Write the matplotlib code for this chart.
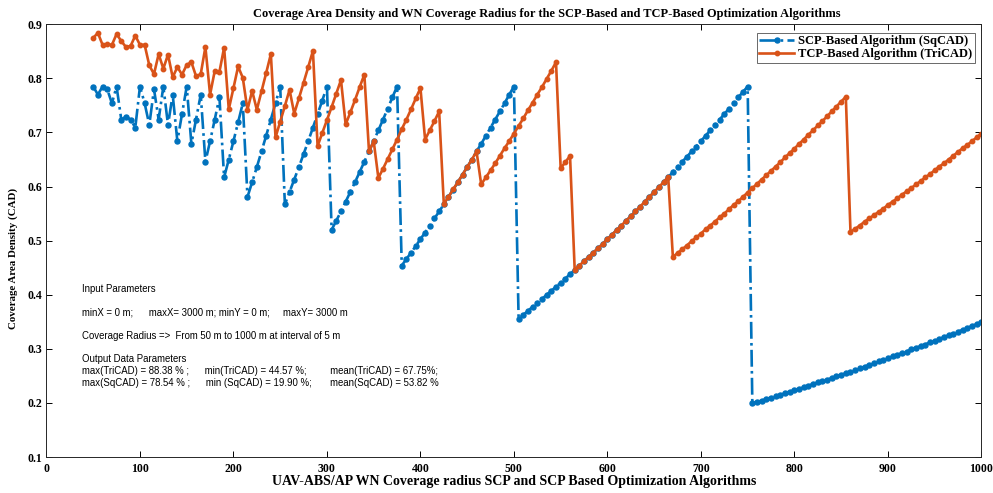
import numpy as np
import matplotlib
matplotlib.use('Agg')
import matplotlib.pyplot as plt

# coverage radius axis (50 m .. 1000 m, step 5 m)
radius = np.arange(50, 1005, 5)

# SCP-based coverage area density (SqCAD)
sqcad = [0.785, 0.770, 0.785, 0.780, 0.754, 0.785, 0.724, 0.729, 0.724, 0.709, 0.785,
         0.754, 0.714, 0.780, 0.724, 0.785, 0.714, 0.770, 0.684, 0.734, 0.785,
         0.679, 0.724, 0.770, 0.646, 0.684, 0.724, 0.765, 0.617, 0.650, 0.684,
         0.719, 0.754, 0.581, 0.608, 0.636, 0.665, 0.694, 0.724, 0.754, 0.785,
         0.567, 0.590, 0.613, 0.636, 0.660, 0.684, 0.709, 0.734, 0.759, 0.785,
         0.520, 0.537, 0.554, 0.572, 0.590, 0.608, 0.627, 0.646, 0.665, 0.684,
         0.704, 0.724, 0.744, 0.765, 0.785, 0.454, 0.466, 0.478, 0.490, 0.503,
         0.515, 0.528, 0.541, 0.554, 0.567, 0.581, 0.594, 0.608, 0.622, 0.636,
         0.650, 0.665, 0.679, 0.694, 0.709, 0.724, 0.739, 0.754, 0.770, 0.785,
         0.356, 0.363, 0.370, 0.378, 0.385, 0.392, 0.400, 0.407, 0.415, 0.422,
         0.430, 0.438, 0.446, 0.454, 0.462, 0.470, 0.478, 0.486, 0.494, 0.503,
         0.511, 0.520, 0.528, 0.537, 0.545, 0.554, 0.563, 0.572, 0.581, 0.590,
         0.599, 0.608, 0.617, 0.627, 0.636, 0.646, 0.655, 0.665, 0.674, 0.684,
         0.694, 0.704, 0.714, 0.724, 0.734, 0.744, 0.754, 0.765, 0.775, 0.785,
         0.199, 0.202, 0.204, 0.207, 0.210, 0.212, 0.215, 0.218, 0.221, 0.223,
         0.226, 0.229, 0.232, 0.235, 0.238, 0.240, 0.243, 0.246, 0.249, 0.252,
         0.255, 0.258, 0.261, 0.264, 0.267, 0.270, 0.273, 0.277, 0.280, 0.283,
         0.286, 0.289, 0.292, 0.295, 0.299, 0.302, 0.305, 0.308, 0.312, 0.315,
         0.318, 0.322, 0.325, 0.328, 0.332, 0.335, 0.339, 0.342, 0.346, 0.349]

# TCP-based coverage area density (TriCAD)
tricad = [0.875, 0.884, 0.862, 0.863, 0.862, 0.882, 0.869, 0.858, 0.860, 0.879, 0.862,
          0.862, 0.824, 0.808, 0.845, 0.818, 0.844, 0.802, 0.821, 0.807, 0.825,
          0.830, 0.804, 0.808, 0.858, 0.770, 0.814, 0.812, 0.857, 0.743, 0.782,
          0.822, 0.801, 0.742, 0.777, 0.742, 0.776, 0.810, 0.845, 0.691, 0.720,
          0.749, 0.779, 0.735, 0.763, 0.792, 0.821, 0.851, 0.675, 0.699, 0.723,
          0.747, 0.772, 0.797, 0.715, 0.737, 0.760, 0.784, 0.807, 0.665, 0.684,
          0.616, 0.633, 0.651, 0.669, 0.687, 0.706, 0.724, 0.743, 0.763, 0.782,
          0.687, 0.704, 0.721, 0.739, 0.568, 0.581, 0.595, 0.608, 0.622, 0.636,
          0.650, 0.665, 0.604, 0.617, 0.630, 0.643, 0.657, 0.671, 0.684, 0.698,
          0.712, 0.726, 0.741, 0.755, 0.770, 0.784, 0.799, 0.814, 0.830, 0.634,
          0.645, 0.657, 0.446, 0.454, 0.462, 0.470, 0.478, 0.486, 0.494, 0.503,
          0.511, 0.520, 0.528, 0.537, 0.545, 0.554, 0.563, 0.572, 0.581, 0.590,
          0.599, 0.608, 0.618, 0.470, 0.477, 0.484, 0.491, 0.499, 0.506, 0.513,
          0.521, 0.528, 0.535, 0.543, 0.550, 0.558, 0.566, 0.573, 0.581, 0.589,
          0.597, 0.605, 0.613, 0.621, 0.629, 0.637, 0.645, 0.654, 0.662, 0.670,
          0.679, 0.687, 0.696, 0.704, 0.713, 0.721, 0.730, 0.739, 0.748, 0.757,
          0.766, 0.516, 0.522, 0.528, 0.535, 0.541, 0.547, 0.553, 0.559, 0.566,
          0.572, 0.578, 0.585, 0.591, 0.597, 0.604, 0.610, 0.617, 0.623, 0.630,
          0.637, 0.643, 0.650, 0.657, 0.664, 0.671, 0.677, 0.684, 0.691, 0.698]

notes = ['Input Parameters',
         '',
         'minX = 0 m;      maxX= 3000 m; minY = 0 m;     maxY= 3000 m',
         '',
         'Coverage Radius =>  From 50 m to 1000 m at interval of 5 m',
         '',
         'Output Data Parameters',
         'max(TriCAD) = 88.38 % ;      min(TriCAD) = 44.57 %;         mean(TriCAD) = 67.75%;',
         'max(SqCAD) = 78.54 % ;      min (SqCAD) = 19.90 %;       mean(SqCAD) = 53.82 %']

serif = 'Liberation Serif'
sans = 'Liberation Sans'

fig = plt.figure(figsize=(9.93, 4.93), dpi=100)
ax = fig.add_axes([0.0468, 0.073, 0.9415, 0.8777])

ax.plot(radius, sqcad, linestyle='-.', color='#0072BD', lw=1.9,
        marker='o', ms=3.6, label='SCP-Based Algorithm (SqCAD)')
ax.plot(radius, tricad, linestyle='-', color='#D95319', lw=1.9,
        marker='o', ms=3.2, label='TCP-Based Algorithm (TriCAD)')

ax.set_xlim(0, 1000)
ax.set_ylim(0.1, 0.9)
ax.set_xticks(np.arange(0, 1001, 100))
ax.set_yticks(np.arange(0.1, 0.91, 0.1))
ax.set_yticklabels(['%.1f' % v for v in np.arange(0.1, 0.91, 0.1)])
ax.tick_params(direction='in', top=True, right=True, length=4, width=0.7)
ax.tick_params(axis='x', pad=4)
ax.tick_params(axis='y', pad=3)
for lab in ax.get_xticklabels() + ax.get_yticklabels():
    lab.set_fontfamily(serif)
    lab.set_fontweight('bold')
    lab.set_fontsize(8.5)
for s in ax.spines.values():
    s.set_linewidth(0.7)
    s.set_color('#262626')

ax.set_title('Coverage Area Density and WN Coverage Radius for the SCP-Based and TCP-Based Optimization Algorithms',
             fontfamily=serif, fontweight='bold', fontsize=8.9, pad=5, x=0.535)
ax.set_xlabel('UAV-ABS/AP WN Coverage radius SCP and SCP Based Optimization Algorithms',
              fontfamily=serif, fontweight='bold', fontsize=10, labelpad=0)
ax.set_ylabel('Coverage Area Density (CAD)', fontfamily=serif, fontweight='bold',
              fontsize=7.8, labelpad=5)
ax.yaxis.set_label_coords(-0.030, 0.46)

leg = ax.legend(loc='upper right', bbox_to_anchor=(0.993, 0.98), borderaxespad=0,
                prop={'family': serif, 'weight': 'bold', 'size': 9},
                fancybox=False, edgecolor='#262626', handlelength=2.8,
                borderpad=0.2, labelspacing=0.05, handletextpad=0.3)
leg.get_frame().set_linewidth(0.6)

# parameter notes, one line each
ax.text(38, 0.420, '\n'.join(notes), fontfamily=sans, fontsize=6.9,
        va='top', ha='left', linespacing=1.22,
        transform=ax.transData)

fig.savefig('out.png', dpi=100)
